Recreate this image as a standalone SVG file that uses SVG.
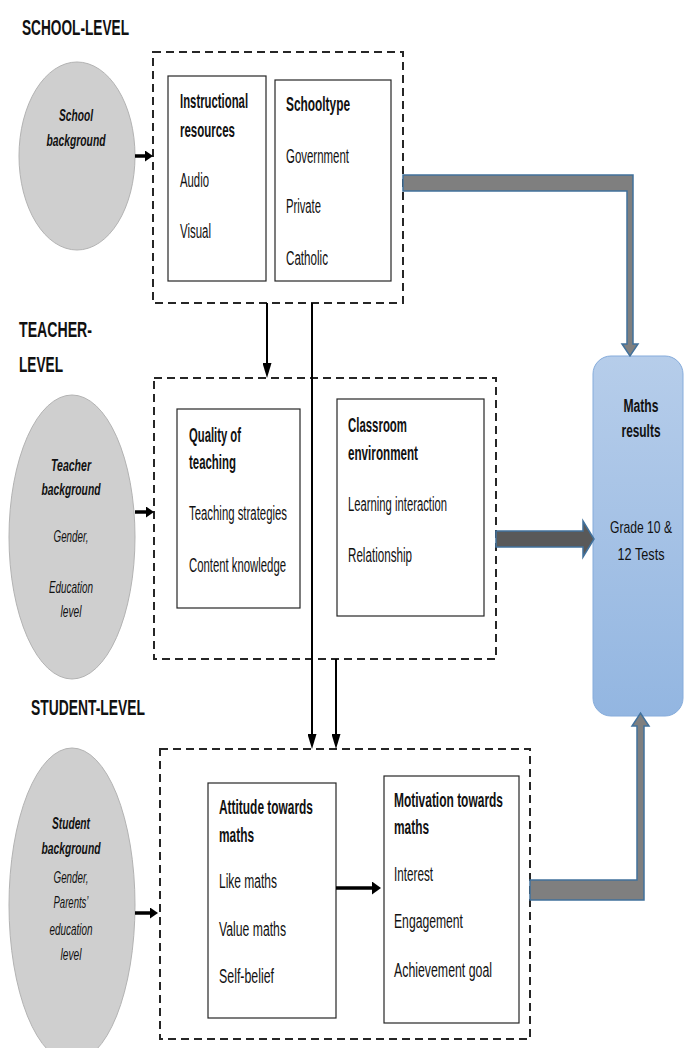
<svg xmlns="http://www.w3.org/2000/svg" width="684" height="1048" viewBox="0 0 684 1048">
<defs>
<style>
.dash{fill:none;stroke:#262626;stroke-width:2;stroke-dasharray:8 5}
.box{fill:#fff;stroke:#262626;stroke-width:1.2}
.bg{fill:#cfcfcf;stroke:#b3b3b3;stroke-width:1}
.t{font-family:"Liberation Sans Narrow","Liberation Sans",Arial,sans-serif;font-size:20px;fill:#111}
.b{font-weight:bold}
.h{font-weight:bold;font-size:22px}
.i{font-style:italic;font-size:17px}
.m{text-anchor:middle}
.r{font-size:18px}
.g{font-size:16px}
.thick{stroke:#41719c;stroke-width:1.5}
.conn{stroke:#000;stroke-width:2;fill:none}
.connH{stroke:#000;stroke-width:3.5;fill:none}
</style>
<linearGradient id="blueGrad" x1="0" y1="0" x2="0" y2="1">
<stop offset="0" stop-color="#b6cdea"/>
<stop offset="1" stop-color="#93b6e1"/>
</linearGradient>
<marker id="headV" markerUnits="userSpaceOnUse" viewBox="0 0 15 9" refX="9" refY="4.5" markerWidth="15" markerHeight="9" orient="auto">
<path d="M0,0 L15,4.5 L0,9 Z" fill="#000"/>
</marker>
<marker id="headH" markerUnits="userSpaceOnUse" viewBox="0 0 8 11" refX="2" refY="5.5" markerWidth="8" markerHeight="11" orient="auto">
<path d="M0,0 L8,5.5 L0,11 Z" fill="#000"/>
</marker>
<marker id="headB" markerUnits="userSpaceOnUse" viewBox="0 0 9 13" refX="2" refY="6.5" markerWidth="9" markerHeight="13" orient="auto">
<path d="M0,0 L9,6.5 L0,13 Z" fill="#000"/>
</marker>
</defs>
<rect width="684" height="1048" fill="#fff"/>

<g id="level-labels">
<text class="t h" x="22" y="35" textLength="107" lengthAdjust="spacingAndGlyphs">SCHOOL-LEVEL</text>
<text class="t h" x="19" y="337" textLength="73" lengthAdjust="spacingAndGlyphs">TEACHER-</text>
<text class="t h" x="19" y="372" textLength="44" lengthAdjust="spacingAndGlyphs">LEVEL</text>
<text class="t h" x="31" y="715" textLength="114" lengthAdjust="spacingAndGlyphs">STUDENT-LEVEL</text>
</g>

<g id="school-background">
<ellipse class="bg" cx="77" cy="156" rx="58" ry="94"/>
<text class="t i b m" x="76" y="121" textLength="34" lengthAdjust="spacingAndGlyphs">School</text>
<text class="t i b m" x="76" y="146" textLength="59" lengthAdjust="spacingAndGlyphs">background</text>
</g>

<g id="teacher-background">
<ellipse class="bg" cx="72" cy="537" rx="63" ry="142"/>
<text class="t i b m" x="71" y="471" textLength="40" lengthAdjust="spacingAndGlyphs">Teacher</text>
<text class="t i b m" x="71" y="495" textLength="59" lengthAdjust="spacingAndGlyphs">background</text>
<text class="t i m" x="71" y="542" textLength="35" lengthAdjust="spacingAndGlyphs">Gender,</text>
<text class="t i m" x="71" y="593" textLength="44" lengthAdjust="spacingAndGlyphs">Education</text>
<text class="t i m" x="71" y="617" textLength="21" lengthAdjust="spacingAndGlyphs">level</text>
</g>

<g id="student-background">
<ellipse class="bg" cx="72" cy="905" rx="63" ry="157"/>
<text class="t i b m" x="71" y="829" textLength="38" lengthAdjust="spacingAndGlyphs">Student</text>
<text class="t i b m" x="71" y="854" textLength="59" lengthAdjust="spacingAndGlyphs">background</text>
<text class="t i m" x="71" y="883" textLength="35" lengthAdjust="spacingAndGlyphs">Gender,</text>
<text class="t i m" x="71" y="908" textLength="35" lengthAdjust="spacingAndGlyphs">Parents’</text>
<text class="t i m" x="71" y="935" textLength="43" lengthAdjust="spacingAndGlyphs">education</text>
<text class="t i m" x="71" y="960" textLength="21" lengthAdjust="spacingAndGlyphs">level</text>
</g>

<g id="school-level">
<rect class="dash" x="153" y="52" width="250" height="251"/>
</g>
<g id="instructional-resources">
<rect class="box" x="168" y="76" width="98" height="205"/>
<text class="t b" transform="translate(180,108) scale(0.567,1)" x="0" y="0" textLength="120" lengthAdjust="spacingAndGlyphs">Instructional</text>
<text class="t b" x="180" y="137" textLength="55" lengthAdjust="spacingAndGlyphs">resources</text>
<text class="t" x="180" y="187" textLength="29" lengthAdjust="spacingAndGlyphs">Audio</text>
<text class="t" x="180" y="238" textLength="31" lengthAdjust="spacingAndGlyphs">Visual</text>
</g>
<g id="school-type">
<rect class="box" x="275" y="80" width="116" height="201"/>
<text class="t b" x="286" y="111" textLength="64" lengthAdjust="spacingAndGlyphs">Schooltype</text>
<text class="t" x="286" y="163" textLength="63" lengthAdjust="spacingAndGlyphs">Government</text>
<text class="t" x="286" y="213" textLength="35" lengthAdjust="spacingAndGlyphs">Private</text>
<text class="t" x="286" y="265" textLength="42" lengthAdjust="spacingAndGlyphs">Catholic</text>
</g>

<g id="teacher-level">
<rect class="dash" x="154" y="378" width="342" height="281"/>
</g>
<g id="quality-of-teaching">
<rect class="box" x="177" y="409" width="123" height="199"/>
<text class="t b" x="189" y="442" textLength="52" lengthAdjust="spacingAndGlyphs">Quality of</text>
<text class="t b" x="189" y="469" textLength="47" lengthAdjust="spacingAndGlyphs">teaching</text>
<text class="t" x="189" y="520" textLength="98" lengthAdjust="spacingAndGlyphs">Teaching strategies</text>
<text class="t" x="189" y="572" textLength="97" lengthAdjust="spacingAndGlyphs">Content knowledge</text>
</g>
<g id="classroom-environment">
<rect class="box" x="337" y="399" width="147" height="217"/>
<text class="t b" x="348" y="432" textLength="59" lengthAdjust="spacingAndGlyphs">Classroom</text>
<text class="t b" x="348" y="460" textLength="70" lengthAdjust="spacingAndGlyphs">environment</text>
<text class="t" x="348" y="511" textLength="99" lengthAdjust="spacingAndGlyphs">Learning interaction</text>
<text class="t" x="348" y="562" textLength="64" lengthAdjust="spacingAndGlyphs">Relationship</text>
</g>

<g id="student-level">
<rect class="dash" x="160" y="749" width="370" height="290"/>
</g>
<g id="attitude-towards-maths">
<rect class="box" x="208" y="783" width="128" height="235"/>
<text class="t b" x="219" y="814" textLength="94" lengthAdjust="spacingAndGlyphs">Attitude towards</text>
<text class="t b" x="219" y="842" textLength="35" lengthAdjust="spacingAndGlyphs">maths</text>
<text class="t" x="219" y="888" textLength="58" lengthAdjust="spacingAndGlyphs">Like maths</text>
<text class="t" x="219" y="936" textLength="67" lengthAdjust="spacingAndGlyphs">Value maths</text>
<text class="t" x="219" y="983" textLength="55" lengthAdjust="spacingAndGlyphs">Self-belief</text>
</g>
<g id="motivation-towards-maths">
<rect class="box" x="384" y="776" width="135" height="247"/>
<text class="t b" x="394" y="807" textLength="109" lengthAdjust="spacingAndGlyphs">Motivation towards</text>
<text class="t b" x="394" y="834" textLength="35" lengthAdjust="spacingAndGlyphs">maths</text>
<text class="t" x="394" y="881" textLength="39" lengthAdjust="spacingAndGlyphs">Interest</text>
<text class="t" x="394" y="928" textLength="69" lengthAdjust="spacingAndGlyphs">Engagement</text>
<text class="t" x="394" y="977" textLength="98" lengthAdjust="spacingAndGlyphs">Achievement goal</text>
</g>

<g id="maths-results">
<rect x="593" y="356" width="90" height="360" rx="18" ry="18" fill="url(#blueGrad)" stroke="#86acdb" stroke-width="1"/>
<text class="t b m r" x="641" y="412" textLength="35" lengthAdjust="spacingAndGlyphs">Maths</text>
<text class="t b m r" x="641" y="437" textLength="39" lengthAdjust="spacingAndGlyphs">results</text>
<text class="t m g" transform="translate(641,533) scale(0.756,1)" x="0" y="0" textLength="82" lengthAdjust="spacingAndGlyphs">Grade 10 &amp;</text>
<text class="t m g" x="641" y="560" textLength="47" lengthAdjust="spacingAndGlyphs">12 Tests</text>
</g>

<g id="connectors">
<path class="connH" d="M135,156 H147" marker-end="url(#headH)"/>
<path class="connH" d="M135,512 H148" marker-end="url(#headH)"/>
<path class="connH" d="M135,913 H152" marker-end="url(#headH)"/>
<path class="connH" d="M336,888 H374" marker-end="url(#headB)"/>
<path class="conn" d="M267,303 V372" marker-end="url(#headV)"/>
<path class="conn" d="M312,303 V743" marker-end="url(#headV)"/>
<path class="conn" d="M336,659 V743" marker-end="url(#headV)"/>
<path class="thick" fill="#7f7f7f" d="M403,175 H633 V344 H638 L630,356 L622,344 H627 V191 H403 Z"/>
<path class="thick" fill="#595959" d="M496,531 H583 V521 L594,539 L583,557 V547 H496 Z"/>
<path class="thick" fill="#7f7f7f" d="M530,880 H637 V726 H632 L640.5,713 L649,726 H644 V900 H530 Z"/>
</g>
</svg>
